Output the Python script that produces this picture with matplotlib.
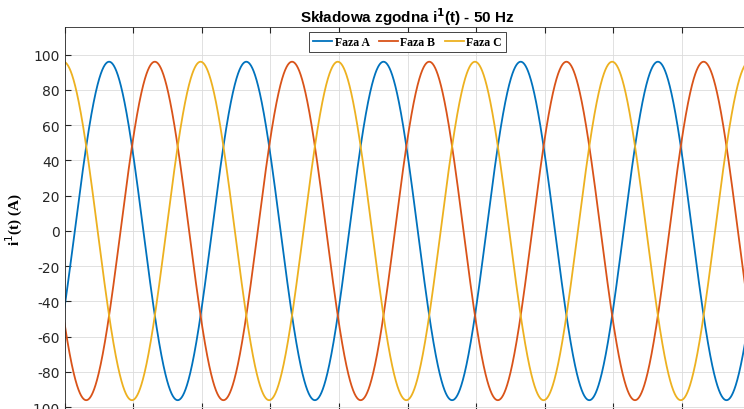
import numpy as np
import matplotlib
matplotlib.use('Agg')
import matplotlib.pyplot as plt

plt.rcParams['axes.unicode_minus'] = False

# Parametry przebiegów
freq = 50.0                      # Hz
phases = ['Faza A', 'Faza B', 'Faza C']
amplitudes = [96.0, 96.0, 96.0]  # A
phase_deg = [-27.0, -147.0, 93.0]
colors = ['#0072BD', '#D95319', '#EDB120']

yticks = [-100, -80, -60, -40, -20, 0, 20, 40, 60, 80, 100]

t = np.linspace(0, 0.1, 4001)

fig = plt.figure(figsize=(7.44, 4.10), dpi=100)
ax = fig.add_axes([64.5 / 744, 0.0, 686 / 744, 382 / 410])

for name, amp, ph, c in zip(phases, amplitudes, phase_deg, colors):
    ax.plot(t, amp * np.sin(2 * np.pi * freq * t + np.deg2rad(ph)), color=c, lw=1.3, label=name)

ax.set_xlim(0, 0.1)
ax.set_ylim(-101, 115.7)
ax.set_xticks(np.arange(0, 0.1001, 0.01))
ax.set_yticks(yticks)
ax.tick_params(direction='in', length=4, colors='#262626', labelsize=10,
               top=True, right=True, labelbottom=False)
for s in ax.spines.values():
    s.set_color('#262626')
    s.set_linewidth(0.6)
ax.grid(True, color='#dcdcdc', lw=0.6)

ax.set_title('Składowa zgodna i$\\mathbf{^1}$(t) - 50 Hz', fontsize=11, fontweight='bold',
             family='Liberation Sans', pad=3.5)
ax.set_ylabel('i$^1$(t) (A)', fontsize=11, fontweight='bold', family='Liberation Serif')
ax.yaxis.set_label_coords(-0.0576, 0.5)

leg = ax.legend(loc='upper center', ncol=3, bbox_to_anchor=(0.5, 0.987),
                prop={'family': 'Liberation Serif', 'weight': 'bold', 'size': 8.5},
                handlelength=1.6, handletextpad=0.2, columnspacing=0.8,
                borderpad=0.35, borderaxespad=0, fancybox=False, framealpha=1,
                edgecolor='#262626')
leg.get_frame().set_linewidth(0.6)

fig.savefig('out.png', dpi=100)
